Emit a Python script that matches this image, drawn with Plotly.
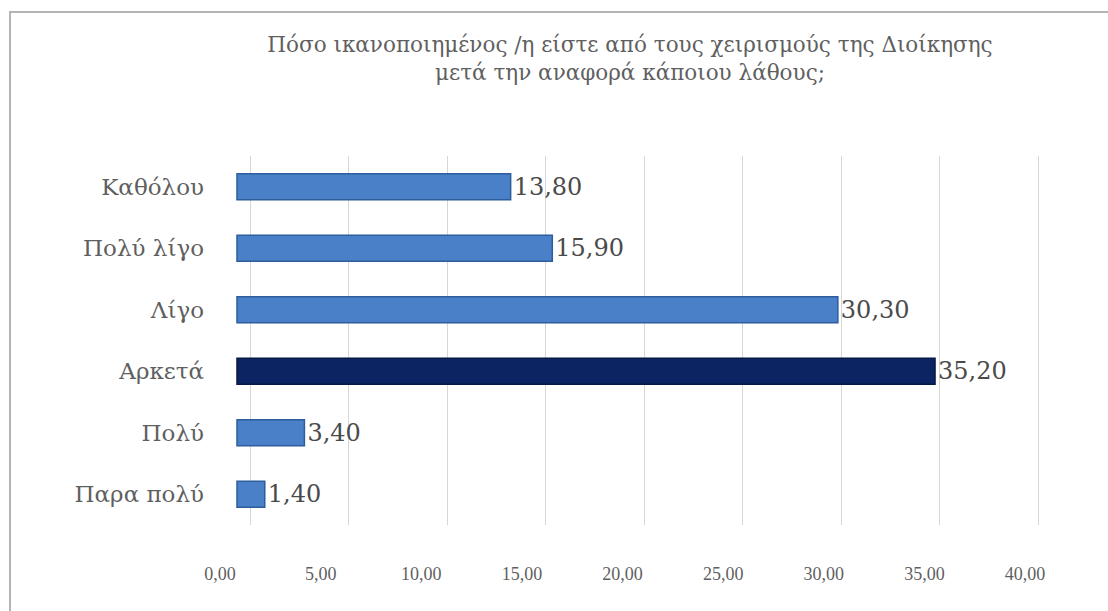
import plotly.graph_objects as go

# Survey responses (percent), listed top to bottom
categories = ["Καθόλου", "Πολύ λίγο", "Λίγο", "Αρκετά", "Πολύ", "Παρα πολύ"]
values = [13.80, 15.90, 30.30, 35.20, 3.40, 1.40]
tick_values = [0, 5, 10, 15, 20, 25, 30, 35, 40]

LIGHT = "#4a80c8"
LIGHT_EDGE = "#2d5d9c"
DARK = "#0c2562"
DARK_EDGE = "#061743"

# the largest share is highlighted in a darker shade
top = max(values)
colors = [DARK if v == top else LIGHT for v in values]
edges = [DARK_EDGE if v == top else LIGHT_EDGE for v in values]

SERIF = "DejaVu Serif, serif"
NARROW_SERIF = "Liberation Serif, Times New Roman, serif"
TEXT = "#5f5f5f"

fig = go.Figure()
fig.add_trace(go.Bar(
    y=categories,
    x=values,
    orientation="h",
    width=0.42,
    marker=dict(color=colors, line=dict(color=edges, width=1.5)),
    text=values,
    texttemplate="%{x:.2f}",
    textposition="outside",
    constraintext="none",
    textfont=dict(family=SERIF, size=24, color="#4a4a4a"),
    cliponaxis=False,
    hoverinfo="skip",
))

# invisible carriers so the back-wall grid and the floor scale get drawn
for ax in ("x2", "x3"):
    fig.add_trace(go.Scatter(
        x=tick_values, y=[categories[0]] * len(tick_values),
        xaxis=ax, yaxis="y", mode="markers",
        marker=dict(opacity=0), hoverinfo="skip", showlegend=False,
    ))

# plot area geometry (pixels); the three x axes share it but are offset
# to give the front face, back wall and floor edge of the 3-D box
W, H = 1108, 611
L, R, T, B = 210, 1060, 156, 525


def axis_range(origin_px, px_per_unit):
    return [(L - origin_px) / px_per_unit, (R - origin_px) / px_per_unit]


bars_range = axis_range(237, 19.83)
grid_range = axis_range(250, 19.7)
label_range = axis_range(220, 20.125)

fig.update_layout(
    width=W, height=H,
    margin=dict(l=L, r=W - R, t=T, b=H - B),
    paper_bgcolor="white",
    plot_bgcolor="rgba(0,0,0,0)",
    separators=",.",
    showlegend=False,
    bargap=0.5,
    title=dict(
        text="Πόσο ικανοποιημένος /η είστε από τους χειρισμούς της Διοίκησης<br>μετά την αναφορά κάποιου λάθους;",
        x=630 / W, xanchor="center",
        y=1 - 52 / H, yanchor="top",
        font=dict(family=SERIF, size=21.5, color=TEXT),
    ),
    xaxis=dict(
        range=bars_range,
        showgrid=False, zeroline=False, showticklabels=False,
        showline=False, ticks="",
    ),
    # back-wall gridlines, set slightly deeper than the bars
    xaxis2=dict(
        overlaying="x", anchor="y",
        range=grid_range,
        tickvals=tick_values,
        showgrid=True, gridcolor="#d6d6d6", gridwidth=1,
        zeroline=False, showticklabels=False, showline=False, ticks="",
    ),
    # value scale printed along the front edge of the floor
    xaxis3=dict(
        overlaying="x", anchor="y", side="bottom",
        range=label_range,
        tickvals=tick_values,
        tickformat=".2f",
        showgrid=False, zeroline=False, showline=False, ticks="",
        ticklabelstandoff=36,
        tickfont=dict(family=NARROW_SERIF, size=18, color=TEXT),
    ),
    yaxis=dict(
        categoryorder="array",
        categoryarray=categories,
        autorange="reversed",
        showgrid=False, zeroline=False, showline=False, ticks="",
        ticklabelstandoff=5,
        tickfont=dict(family=SERIF, size=23, color=TEXT),
    ),
    shapes=[
        # chart frame
        dict(type="rect", xref="paper", yref="paper", layer="below",
             x0=(10 - L) / (R - L), x1=1.2,
             y0=-0.5, y1=(B - 12) / (B - T),
             line=dict(color="#b4b4b4", width=2), fillcolor="rgba(0,0,0,0)"),
    ],
)

fig.write_html("out.html")
